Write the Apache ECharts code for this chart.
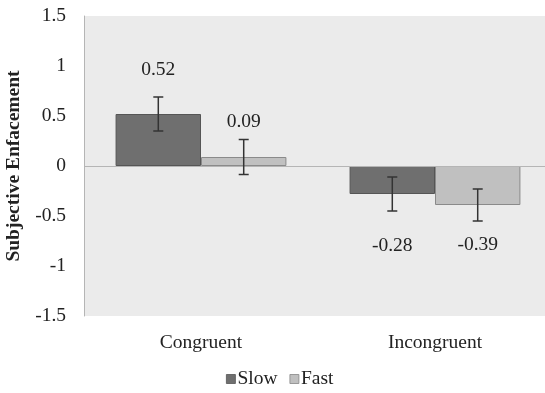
<!DOCTYPE html>
<html>
<head>
<meta charset="utf-8">
<script src="https://cdn.jsdelivr.net/npm/echarts@6/dist/echarts.min.js"></script>
<style>
  html, body { margin: 0; padding: 0; background: #fff; }
  #main { width: 545px; height: 393px; }
</style>
</head>
<body>
<div id="main"></div>
<script>
// data
var categories = ["Congruent", "Incongruent"];
var slowMean = [0.52, -0.28];
var fastMean = [0.09, -0.39];
var slowErr = [0.17, 0.17];
var fastErr = [0.175, 0.16];

// how far the printed value sits from the end of its bar (px)
var slowLabelGap = [34, 42];
var fastLabelGap = [25, 30];

var font = "Liberation Serif";
var fs = 19.5;
var catGap = 0.27;

function barData(vals, gaps) {
  return vals.map(function (v, i) {
    return {
      value: v,
      label: { position: v < 0 ? "bottom" : "top", distance: gaps[i] }
    };
  });
}

function errData(vals, errs) {
  return vals.map(function (v, i) {
    return [i, v - errs[i], v + errs[i]];
  });
}

function errRender(side) {
  return function (params, api) {
    var i = api.value(0);
    var lo = api.coord([i, api.value(1)]);
    var hi = api.coord([i, api.value(2)]);
    var band = api.size([1, 0])[0];
    var bw = band * (1 - catGap) / 2;
    var x = lo[0] + side * bw / 2;
    var cap = 5;
    var st = { stroke: "#333", lineWidth: 1.5 };
    return {
      type: "group",
      children: [
        { type: "line", shape: { x1: x, y1: lo[1], x2: x, y2: hi[1] }, style: st },
        { type: "line", shape: { x1: x - cap, y1: lo[1], x2: x + cap, y2: lo[1] }, style: st },
        { type: "line", shape: { x1: x - cap, y1: hi[1], x2: x + cap, y2: hi[1] }, style: st }
      ]
    };
  };
}

var myChart = echarts.init(document.getElementById("main"), null, { renderer: "canvas" });

var option = {
  animation: false,
  textStyle: { fontFamily: font },
  grid: {
    left: 84, top: 16, bottom: 77, right: -7,
    outerBoundsMode: "none",
    containLabel: false,
    show: true, backgroundColor: "#ebebeb", borderWidth: 0
  },
  legend: {
    left: 221, top: 364,
    itemWidth: 9, itemHeight: 9, itemGap: 12,
    textStyle: { fontFamily: font, fontSize: fs, color: "#222", padding: [0, 0, 0, -3] },
    data: [
      { name: "Slow", icon: "rect", itemStyle: { borderColor: "#555", borderWidth: 0.8 } },
      { name: "Fast", icon: "rect", itemStyle: { borderColor: "#888", borderWidth: 0.8 } }
    ]
  },
  xAxis: {
    type: "category",
    data: categories,
    axisLine: { show: false },
    axisTick: { show: false },
    axisLabel: { fontFamily: font, fontSize: fs, color: "#222", margin: 17 }
  },
  yAxis: {
    type: "value",
    min: -1.5, max: 1.5, interval: 0.5,
    name: "Subjective Enfacement",
    nameLocation: "middle",
    nameGap: 57,
    nameRotate: 90,
    nameTextStyle: { fontFamily: font, fontSize: fs, fontWeight: "bold", color: "#222" },
    axisLine: { show: true, lineStyle: { color: "#b5b5b5", width: 1 } },
    axisTick: { show: false },
    splitLine: { show: false },
    axisLabel: { fontFamily: font, fontSize: fs, color: "#222", margin: 18 }
  },
  series: [
    {
      name: "Slow",
      type: "bar",
      barGap: 0,
      barCategoryGap: (catGap * 100) + "%",
      data: barData(slowMean, slowLabelGap),
      itemStyle: { color: "#6f6f6f", borderColor: "#555", borderWidth: 1 },
      label: {
        show: true, fontFamily: font, fontSize: fs, color: "#222",
        formatter: function (p) { return p.value.toFixed(2); }
      },
      markLine: {
        silent: true, symbol: "none", label: { show: false },
        lineStyle: { color: "#b5b5b5", width: 1, type: "solid" },
        data: [{ yAxis: 0 }]
      },
      z: 2
    },
    {
      name: "Fast",
      type: "bar",
      data: barData(fastMean, fastLabelGap),
      itemStyle: { color: "#c0c0c0", borderColor: "#8a8a8a", borderWidth: 1 },
      label: {
        show: true, fontFamily: font, fontSize: fs, color: "#222",
        formatter: function (p) { return p.value.toFixed(2); }
      },
      z: 2
    },
    {
      type: "custom",
      renderItem: errRender(-1),
      data: errData(slowMean, slowErr),
      encode: { x: 0, y: [1, 2] },
      z: 5
    },
    {
      type: "custom",
      renderItem: errRender(1),
      data: errData(fastMean, fastErr),
      encode: { x: 0, y: [1, 2] },
      z: 5
    }
  ]
};

myChart.setOption(option);
</script>
</body>
</html>
